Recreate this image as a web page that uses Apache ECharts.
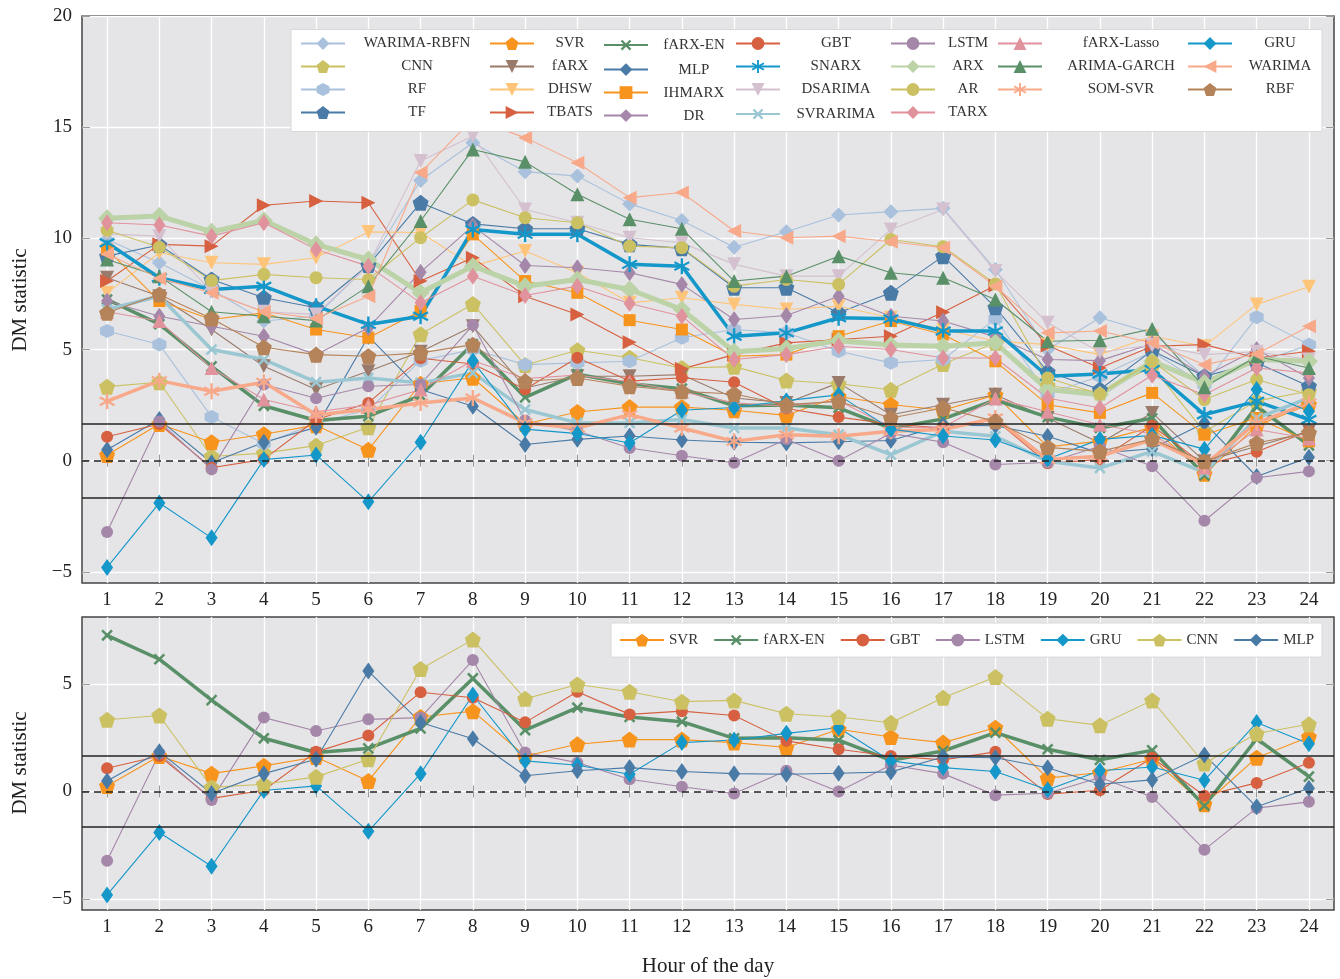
<!DOCTYPE html>
<html><head><meta charset="utf-8">
<script src="https://cdn.jsdelivr.net/npm/echarts@6/dist/echarts.min.js"></script>
<style>html,body{margin:0;padding:0;background:#fff}#c{width:1340px;height:979px}</style>
</head><body><div id="c"></div>
<script>
// ---------- data ----------
const hours = [1,2,3,4,5,6,7,8,9,10,11,12,13,14,15,16,17,18,19,20,21,22,23,24];
const yTicksTop = [-5, 0, 5, 10, 15, 20];
const yTicksBottom = [-5, 0, 5];
const criticalValue = 1.645;

const WARIMA_RBFN = [9.95,8.9,7.7,6.28,6.5,8.8,12.6,14.3,13.0,12.8,11.55,10.8,9.6,10.3,11.05,11.2,11.35,8.6,5.0,6.43,5.75,3.8,4.4,5.2];
const CNN = [3.33,3.53,0.19,0.34,0.68,1.5,5.69,7.05,4.3,4.97,4.63,4.17,4.23,3.61,3.46,3.19,4.35,5.31,3.38,3.07,4.23,1.3,2.69,3.12];
const RF = [5.83,5.23,1.97,0.77,1.67,2.3,4.5,5.0,4.32,4.4,4.47,5.53,5.9,5.75,4.92,4.4,4.55,6.38,3.0,3.8,4.9,3.42,6.45,5.22];
const TF = [9.2,9.7,8.15,7.33,6.88,8.8,11.6,10.65,10.43,10.43,9.73,9.55,7.78,7.78,6.65,7.55,9.2,6.9,4.0,3.2,4.95,3.8,4.4,3.35];
const SVR = [0.26,1.65,0.83,1.19,1.6,0.49,3.46,3.73,1.65,2.19,2.41,2.41,2.27,2.04,2.89,2.53,2.27,2.96,0.62,0.88,1.5,-0.59,1.57,2.53];
const fARX = [8.23,7.4,5.9,4.25,3.2,4.02,4.9,6.05,3.27,3.8,3.8,3.87,2.82,2.6,3.5,2.07,2.52,2.97,1.92,0.8,2.15,-0.03,0.65,1.32];
const DHSW = [7.55,9.35,8.9,8.83,9.13,10.29,10.26,8.75,9.43,8.45,7.1,7.33,7.03,6.8,6.95,6.43,5.9,5.38,5.22,4.77,5.6,5.15,7.03,7.82];
const TBATS = [8.08,9.73,9.65,11.49,11.68,11.6,8.08,9.13,7.4,6.58,5.33,4.13,4.77,5.3,5.45,5.6,6.68,7.88,5.18,4.17,5.15,5.22,4.62,4.92];
const fARX_EN = [7.25,6.14,4.24,2.47,1.81,2.0,2.93,5.25,2.85,3.89,3.46,3.24,2.47,2.5,2.38,1.45,1.88,2.73,1.96,1.47,1.91,-0.66,2.45,0.69];
const MLP = [0.49,1.85,-0.09,0.83,1.5,5.59,3.2,2.45,0.73,0.96,1.11,0.93,0.83,0.8,0.85,0.91,1.6,1.57,1.1,0.34,0.54,1.7,-0.71,0.15];
const IHMARX = [9.5,7.18,6.35,6.65,5.9,5.53,6.73,10.18,8.08,7.55,6.32,5.9,4.7,4.77,5.6,6.28,5.68,4.47,2.52,2.15,3.05,1.17,1.92,0.87];
const DR = [7.18,6.5,6.05,5.6,4.77,5.98,8.48,10.56,8.78,8.68,8.45,7.93,6.35,6.53,7.4,6.5,6.28,5.57,4.55,4.5,5.26,3.8,5.0,3.72];
const GBT = [1.08,1.65,-0.32,0.06,1.84,2.6,4.61,4.35,3.21,4.63,3.58,3.73,3.53,2.35,1.96,1.65,1.47,1.84,-0.12,0.06,1.57,-0.2,0.4,1.34];
const SNARX = [9.8,8.23,7.7,7.85,6.95,6.13,6.5,10.4,10.18,10.18,8.83,8.75,5.6,5.75,6.43,6.38,5.83,5.83,3.8,3.9,4.1,2.07,2.67,1.85];
const DSARIMA = [10.2,10.1,7.6,6.7,6.58,8.8,13.48,14.6,11.3,10.7,10.03,9.8,8.83,8.3,8.3,10.4,11.3,8.53,6.2,4.88,5.2,4.77,4.9,4.55];
const SVRARIMA = [6.8,7.4,5.0,4.55,3.53,3.72,3.5,3.95,2.3,1.7,1.7,1.85,1.47,1.47,1.17,0.27,1.32,1.1,-0.03,-0.33,0.42,-0.53,1.92,2.82];
const LSTM = [-3.21,1.76,-0.39,3.43,2.81,3.35,3.43,6.1,1.81,1.34,0.57,0.22,-0.09,0.96,0.0,1.23,0.83,-0.17,-0.08,0.65,-0.25,-2.7,-0.77,-0.48];
const ARX = [10.9,11.0,10.3,10.8,9.73,9.05,7.55,8.75,7.85,8.15,7.7,6.8,4.9,5.05,5.4,5.2,5.15,5.3,3.2,2.97,4.47,3.5,4.55,4.47];
const AR = [10.36,9.6,8.1,8.38,8.23,8.15,10.03,11.73,10.93,10.7,9.65,9.58,7.85,8.15,7.93,9.95,9.62,7.95,3.72,3.0,4.47,2.75,3.65,2.97];
const TARX = [10.7,10.6,10.1,10.7,9.5,8.75,7.1,8.3,7.43,7.85,7.07,6.5,4.55,4.77,5.15,5.0,4.62,4.62,2.82,2.37,3.84,2.97,4.17,3.95];
const fARX_Lasso = [6.7,6.28,4.17,2.75,2.2,2.5,3.2,4.5,3.7,3.85,3.55,3.1,2.6,2.45,2.7,1.5,1.5,2.8,2.2,1.62,1.2,-0.3,1.4,1.0];
const ARIMA_GARCH = [9.05,8.3,6.7,6.5,6.3,7.85,10.78,14.0,13.44,11.98,10.86,10.43,8.08,8.3,9.2,8.45,8.23,7.25,5.37,5.42,5.93,3.3,4.7,4.17];
const SOM_SVR = [2.67,3.6,3.12,3.53,2.07,2.3,2.6,2.82,1.7,1.47,2.07,1.47,0.87,1.17,1.1,1.32,1.4,1.92,0.05,0.2,0.95,-0.18,1.7,2.6];
const GRU = [-4.8,-1.9,-3.47,0.05,0.26,-1.85,0.83,4.48,1.42,1.22,0.8,2.27,2.39,2.7,2.96,1.42,1.11,0.93,0.08,0.96,1.14,0.52,3.2,2.22];
const WARIMA = [9.3,8.2,7.55,6.7,6.4,7.4,12.96,15.36,14.53,13.4,11.83,12.06,10.33,10.03,10.1,9.85,9.58,7.85,5.75,5.83,5.3,4.32,4.8,6.05];
const RBF = [6.65,7.48,6.4,5.1,4.77,4.7,4.85,5.22,3.57,3.72,3.35,3.12,3.0,2.52,2.67,1.92,2.37,1.77,0.6,0.42,0.98,-0.03,0.8,1.25];

const seriesValues = {
  'WARIMA-RBFN': WARIMA_RBFN, 'CNN': CNN, 'RF': RF, 'TF': TF,
  'SVR': SVR, 'fARX': fARX, 'DHSW': DHSW, 'TBATS': TBATS,
  'fARX-EN': fARX_EN, 'MLP': MLP, 'IHMARX': IHMARX, 'DR': DR,
  'GBT': GBT, 'SNARX': SNARX, 'DSARIMA': DSARIMA, 'SVRARIMA': SVRARIMA,
  'LSTM': LSTM, 'ARX': ARX, 'AR': AR, 'TARX': TARX,
  'fARX-Lasso': fARX_Lasso, 'ARIMA-GARCH': ARIMA_GARCH, 'SOM-SVR': SOM_SVR,
  'GRU': GRU, 'WARIMA': WARIMA, 'RBF': RBF
};
const legendColumns = [
  ['WARIMA-RBFN','CNN','RF','TF'],
  ['SVR','fARX','DHSW','TBATS'],
  ['fARX-EN','MLP','IHMARX','DR'],
  ['GBT','SNARX','DSARIMA','SVRARIMA'],
  ['LSTM','ARX','AR','TARX'],
  ['fARX-Lasso','ARIMA-GARCH','SOM-SVR'],
  ['GRU','WARIMA','RBF']
];
const bottomNames = ['SVR','fARX-EN','GBT','LSTM','GRU','CNN','MLP'];

// ---------- styles ----------
const PENT = 'path://M50,0L97.55,34.55L79.39,90.45L20.61,90.45L2.45,34.55Z';
const HEX = 'path://M50,0L93.3,25L93.3,75L50,100L6.7,75L6.7,25Z';
const PLUS = 'path://M41,0L59,0L59,41L100,41L100,59L59,59L59,100L41,100L41,59L0,59L0,41L41,41Z';
function asteriskPath(hw){
  let p='path://';
  [0,60,120].forEach(a=>{
    const t=a*Math.PI/180, c=Math.cos(t), s=Math.sin(t);
    const pts=[[-hw,-50],[hw,-50],[hw,50],[-hw,50]].map(([x,y])=>[50+x*c-y*s,50+x*s+y*c]);
    p+='M'+pts.map(q=>q[0].toFixed(2)+','+q[1].toFixed(2)).join('L')+'Z';
  });
  return p;
}
const AST = asteriskPath(7);
const TDIA = [12,17], SDIA = [15,15];
const styles = {
  'WARIMA-RBFN': {c:'#a9c1dc', s:'diamond', z:SDIA},
  'CNN': {c:'#cbc163', s:PENT, z:16},
  'RF': {c:'#a9c1dc', s:HEX, z:14},
  'TF': {c:'#4a7ba6', s:PENT, z:16},
  'SVR': {c:'#f7941d', s:PENT, z:16},
  'fARX': {c:'#9a7b6b', s:'triangle', z:14, r:180},
  'DHSW': {c:'#fec57a', s:'triangle', z:14, r:180},
  'TBATS': {c:'#d6603f', s:'triangle', z:14, r:-90},
  'fARX-EN': {c:'#5a9068', s:PLUS, z:14, r:45, w:3.5},
  'MLP': {c:'#4a7ba6', s:'diamond', z:TDIA},
  'IHMARX': {c:'#f7941d', s:'rect', z:12},
  'DR': {c:'#a587a9', s:'diamond', z:TDIA},
  'GBT': {c:'#d6603f', s:'circle', z:12},
  'SNARX': {c:'#1497c9', s:AST, z:16, w:3.5},
  'DSARIMA': {c:'#d4c0ce', s:'triangle', z:14, r:180},
  'SVRARIMA': {c:'#9bc7d2', s:PLUS, z:14, r:45, w:3.5},
  'LSTM': {c:'#a587a9', s:'circle', z:12},
  'ARX': {c:'#bcd2a7', s:'diamond', z:[18,18], w:5},
  'AR': {c:'#cbc163', s:'circle', z:13},
  'TARX': {c:'#e0929d', s:'diamond', z:TDIA},
  'fARX-Lasso': {c:'#e0929d', s:'triangle', z:14},
  'ARIMA-GARCH': {c:'#5a9068', s:'triangle', z:14},
  'SOM-SVR': {c:'#f7a98a', s:AST, z:16, w:3.5},
  'GRU': {c:'#1497c9', s:'diamond', z:TDIA},
  'WARIMA': {c:'#f7a98a', s:'triangle', z:14, r:90},
  'RBF': {c:'#b5835a', s:PENT, z:16}
};

function mkSeries(name, xi, yi){
  const st = styles[name];
  return {
    name, type:'line', xAxisIndex:xi, yAxisIndex:yi,
    data: hours.map((h,i)=>[h, seriesValues[name][i]]),
    symbol: st.s, symbolSize: st.z, symbolRotate: st.r || 0, showSymbol:true,
    lineStyle:{color:st.c, width: st.w || 1.1},
    itemStyle:{color:st.c, opacity:1},
    emphasis:{disabled:true}, animation:false, z:2
  };
}

const FONT = 'Liberation Serif';
const minus = v => (v<0 ? '\u2212'+Math.abs(v) : String(v));
function xAx(gi, pos, labels){
  return {type:'value', gridIndex:gi, position:pos, min:0.52, max:24.48,
    axisLine:{show:false},
    axisTick:{show:true, inside:true, length:6, customValues:hours, lineStyle:{color:'#9a9a9a'}},
    axisLabel:{show:labels, customValues:hours, fontFamily:FONT, fontSize:19, color:'#222', margin:8},
    splitLine:{show:pos==='bottom', lineStyle:{color:'#ffffff', width:1.3}}};
}
function yAx(gi, pos, min, max, ticks, labels){
  return {type:'value', gridIndex:gi, position:pos, min, max,
    axisLine:{show:false},
    axisTick:{show:true, inside:true, length:8, customValues:ticks, lineStyle:{color:'#9a9a9a'}},
    axisLabel:{show:labels, customValues:ticks, formatter:minus, fontFamily:FONT, fontSize:19, color:'#222', margin:10},
    splitLine:{show:pos==='left', lineStyle:{color:'#ffffff', width:1.3}}};
}

function refSeries(xi, yi){
  return {type:'line', xAxisIndex:xi, yAxisIndex:yi, data:[], z:1, silent:true,
    markLine:{symbol:'none', silent:true, animation:false, label:{show:false},
      data:[
        {yAxis:criticalValue, lineStyle:{color:'#222', width:1.6, type:'solid'}},
        {yAxis:-criticalValue, lineStyle:{color:'#222', width:1.6, type:'solid'}},
        {yAxis:0, lineStyle:{color:'#222', width:1.6, type:[7,5]}}
      ]}};
}

const series = [refSeries(0,0), refSeries(2,2)];
legendColumns.flat().forEach(n=>series.push(mkSeries(n,0,0)));
bottomNames.forEach(n=>series.push(mkSeries(n,2,2)));

const LFONT = 'Liberation Serif', LSIZE = 15;
const colLefts = [300, 489, 603, 735, 890, 997, 1187];
const colTextW = [134, 62, 82, 102, 56, 148, 86];
const legends = legendColumns.map((col,i)=>({
  orient:'vertical', left:colLefts[i], top:36, padding:0, itemGap:8,
  itemWidth:44, itemHeight:16, selectedMode:false, data:col, z:6,
  formatter: n => '{t|'+n+'}',
  textStyle:{fontFamily:LFONT, fontSize:LSIZE, color:'#333',
    rich:{t:{width:colTextW[i], align:'center', lineHeight:16, fontFamily:LFONT, fontSize:LSIZE, color:'#333'}}}
}));
legends.push({orient:'horizontal', right:18, top:623, padding:[8,8], itemGap:15,
  itemWidth:44, itemHeight:16, selectedMode:false, data:bottomNames,
  backgroundColor:'#ffffff', borderColor:'#d8d8d8', borderWidth:1, z:6,
  textStyle:{fontFamily:LFONT, fontSize:LSIZE, color:'#333'}});

const option = {
  backgroundColor:'#ffffff', animation:false,
  grid:[
    {left:82, top:16, width:1252, height:567, show:true, backgroundColor:'#e5e5e8', borderColor:'#444', borderWidth:1.5},
    {left:82, top:617, width:1252, height:293, show:true, backgroundColor:'#e5e5e8', borderColor:'#444', borderWidth:1.5}
  ],
  xAxis:[xAx(0,'bottom',true), xAx(0,'top',false), xAx(1,'bottom',true), xAx(1,'top',false)],
  yAxis:[yAx(0,'left',-5.5,20,yTicksTop,true), yAx(0,'right',-5.5,20,yTicksTop,false),
         yAx(1,'left',-5.5,8.1,yTicksBottom,true), yAx(1,'right',-5.5,8.1,yTicksBottom,false)],
  legend: legends,
  graphic:[
    {type:'rect', shape:{x:291, y:29.5, width:1031, height:102}, style:{fill:'#ffffff', stroke:'#d8d8d8', lineWidth:1}, z:5},
    {type:'text', x:20, y:300, rotation:Math.PI/2, style:{text:'DM statistic', font:'21px "Liberation Serif"', fill:'#222', textAlign:'center', textVerticalAlign:'middle'}},
    {type:'text', x:20, y:763, rotation:Math.PI/2, style:{text:'DM statistic', font:'21px "Liberation Serif"', fill:'#222', textAlign:'center', textVerticalAlign:'middle'}},
    {type:'text', x:708, y:966, style:{text:'Hour of the day', font:'21px "Liberation Serif"', fill:'#222', textAlign:'center', textVerticalAlign:'middle'}}
  ],
  series
};
const chart = echarts.init(document.getElementById('c'), null, {renderer:'canvas'});
chart.setOption(option);
</script></body></html>
